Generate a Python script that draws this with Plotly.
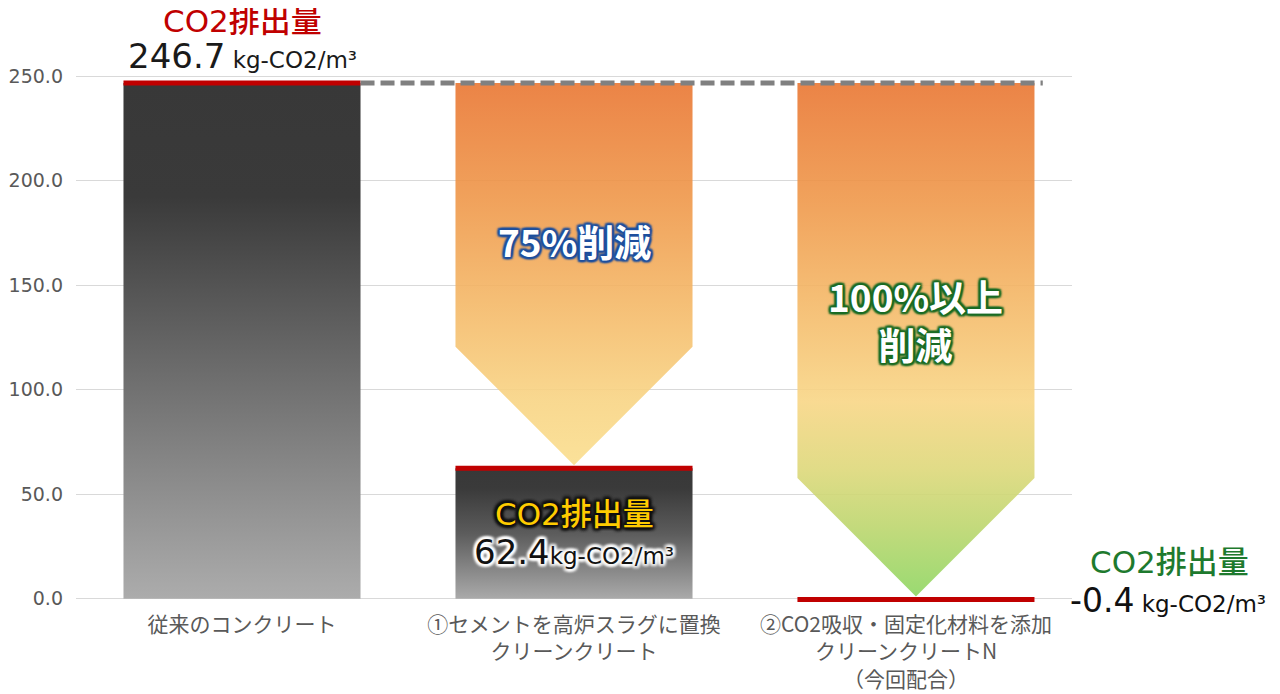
import plotly.graph_objects as go

# ---------------- data ----------------
categories = [
    "従来のコンクリート",
    "①セメントを高炉スラグに置換<br>クリーンクリート",
    "②CO2吸収・固定化材料を添加<br>クリーンクリートN<br>（今回配合）",
]
emissions = [246.7, 62.4, -0.4]          # kg-CO2/m3
reduction_labels = ["75%削減", "100%以上<br>削減"]
y_ticks = [0, 50, 100, 150, 200, 250]
unit = "kg-CO2/m³"

# ---------------- layout constants ----------------
# page body has an 8px default margin, so the figure is 8px smaller
W, H = 1272, 686
M_L, M_R, M_T, M_B = 68, 208, 64, 90
X_RANGE = [-0.5, 2.5]
Y_RANGE = [-2.5, 252]
bar_x = [0, 1, 2.03]
HALF = 0.357
TIP_GAP = 1.5
A = 0.9

px_per_x = (W - M_L - M_R) / (X_RANGE[1] - X_RANGE[0])
px_per_y = (H - M_T - M_B) / (Y_RANGE[1] - Y_RANGE[0])
head = HALF * px_per_x / px_per_y     # 45 degree arrow head in data units

JP = "Noto Sans CJK JP"
LAT = "DejaVu Sans, Noto Sans CJK JP"


def outline(color, r=2, blur=3):
    parts = []
    for dx in (-r, 0, r):
        for dy in (-r, 0, r):
            if dx or dy:
                parts.append(f"{dx}px {dy}px {blur}px {color}")
    parts.append(f"0 0 {blur + 1}px {color}")
    return ", ".join(parts)


fig = go.Figure()

# dark bars (current emissions for first two)
dark_scales = [
    [[0, "#acacac"], [0.47, "#686868"], [0.78, "#3a3a3a"], [1, "#383838"]],
    [[0, "#aaaaaa"], [0.5, "#5c5c5c"], [0.85, "#3a3a3a"], [1, "#383838"]],
]
for i in range(2):
    xc, v = bar_x[i], emissions[i]
    fig.add_trace(go.Scatter(
        x=[xc - HALF, xc + HALF, xc + HALF, xc - HALF, xc - HALF],
        y=[0, 0, v, v, 0],
        mode="lines", line=dict(width=0), fill="toself",
        fillgradient=dict(type="vertical", colorscale=dark_scales[i], start=0, stop=v),
        hoverinfo="skip", showlegend=False,
    ))

# reduction arrows
arrow_scales = [
    [[0, f"rgba(250,222,142,{A})"], [0.17, f"rgba(248,212,132,{A})"],
     [0.43, f"rgba(244,183,102,{A})"], [0.69, f"rgba(239,152,74,{A})"],
     [1, f"rgba(233,118,50,{A})"]],
    [[0, f"rgba(142,214,98,{A})"], [0.14, f"rgba(190,214,110,{A})"],
     [0.25, f"rgba(222,216,122,{A})"], [0.38, f"rgba(248,214,134,{A})"],
     [0.58, f"rgba(244,183,102,{A})"], [0.77, f"rgba(239,152,74,{A})"],
     [1, f"rgba(233,118,50,{A})"]],
]
top = emissions[0]
for j, i in enumerate([1, 2]):
    xc = bar_x[i]
    tip = emissions[i] + TIP_GAP
    sh = tip + head
    fig.add_trace(go.Scatter(
        x=[xc - HALF, xc + HALF, xc + HALF, xc, xc - HALF, xc - HALF],
        y=[top, top, sh, tip, sh, top],
        mode="lines", line=dict(width=0), fill="toself",
        fillgradient=dict(type="vertical", colorscale=arrow_scales[j], start=tip, stop=top),
        hoverinfo="skip", showlegend=False,
    ))

# red level lines
for i in range(3):
    xc, v = bar_x[i], emissions[i]
    fig.add_trace(go.Scatter(
        x=[xc - HALF, xc + HALF], y=[v, v], mode="lines",
        line=dict(color="#c00000", width=5), cliponaxis=False,
        hoverinfo="skip", showlegend=False,
    ))

# dashed reference line
fig.add_trace(go.Scatter(
    x=[bar_x[0] + HALF, bar_x[2] + HALF + 0.025], y=[top, top], mode="lines",
    line=dict(color="#808080", width=5, dash="14px,6px"),
    hoverinfo="skip", showlegend=False,
))

ann = []
# bar 1 labels
ann.append(dict(x=bar_x[0], y=emissions[0], yshift=62, text="CO2排出量",
                font=dict(family=LAT, size=31, color="#c00000", weight=500)))
ann.append(dict(x=bar_x[0], y=emissions[0], yshift=27,
                text=f"<span style='font-size:34px'>{emissions[0]:.1f}</span> "
                     f"<span style='font-size:23px'>{unit}</span>",
                font=dict(family=LAT, size=23, color="#1a1a1a")))
# bar 2 labels
ann.append(dict(x=bar_x[1], y=emissions[1], yshift=-46, text="CO2排出量",
                font=dict(family=LAT, size=31, color="#ffcc00", weight=500,
                          shadow=outline("#111", 2, 3))))
ann.append(dict(x=bar_x[1], y=emissions[1], yshift=-84,
                text=f"<span style='font-size:34px'>{emissions[1]:.1f}</span>"
                     f"<span style='font-size:23px'>{unit}</span>",
                font=dict(family=LAT, size=23, color="#111111",
                          shadow=outline("#ffffff", 2, 3))))
# bar 3 labels (right side)
ann.append(dict(x=bar_x[2], y=emissions[2], xshift=254, yshift=38, text="CO2排出量",
                font=dict(family=LAT, size=31, color="#1e7a2e", weight=500)))
ann.append(dict(x=bar_x[2], y=emissions[2], xshift=252, yshift=-1,
                text=f"<span style='font-size:33px'>{emissions[2]:.1f}</span> "
                     f"<span style='font-size:23px'>{unit}</span>",
                font=dict(family=LAT, size=23, color="#111111")))
# reduction labels
ann.append(dict(x=bar_x[1], y=top, yshift=-158, text=reduction_labels[0],
                font=dict(family=JP, size=37, color="#ffffff", weight="bold",
                          shadow=outline("#1d4f9e", 2, 2))))
ann.append(dict(x=bar_x[2], y=top, yshift=-237, text=reduction_labels[1],
                font=dict(family=JP, size=37, color="#ffffff", weight="bold",
                          shadow=outline("#1a6b24", 2, 2))))
for a in ann:
    a.update(xref="x", yref="y", showarrow=False, xanchor="center", yanchor="middle")

fig.update_layout(
    width=W, height=H,
    margin=dict(l=M_L, r=M_R, t=M_T, b=M_B, autoexpand=False),
    paper_bgcolor="white", plot_bgcolor="white",
    showlegend=False,
    annotations=ann,
    xaxis=dict(range=X_RANGE, tickvals=[0, 1, 2], ticktext=categories,
               showgrid=False, zeroline=False, showline=False, ticks="",
               ticklabelstandoff=6, automargin=False,
               tickfont=dict(family=JP, size=21, color="#595959"), fixedrange=True),
    yaxis=dict(range=Y_RANGE, tickvals=y_ticks, tickformat=".1f",
               showgrid=True, gridcolor="#d9d9d9", gridwidth=1, automargin=False,
               zeroline=False, showline=False, ticks="", ticklabelstandoff=12,
               tickfont=dict(family="DejaVu Sans", size=19, color="#595959"), fixedrange=True),
)

fig.write_html("out.html")
